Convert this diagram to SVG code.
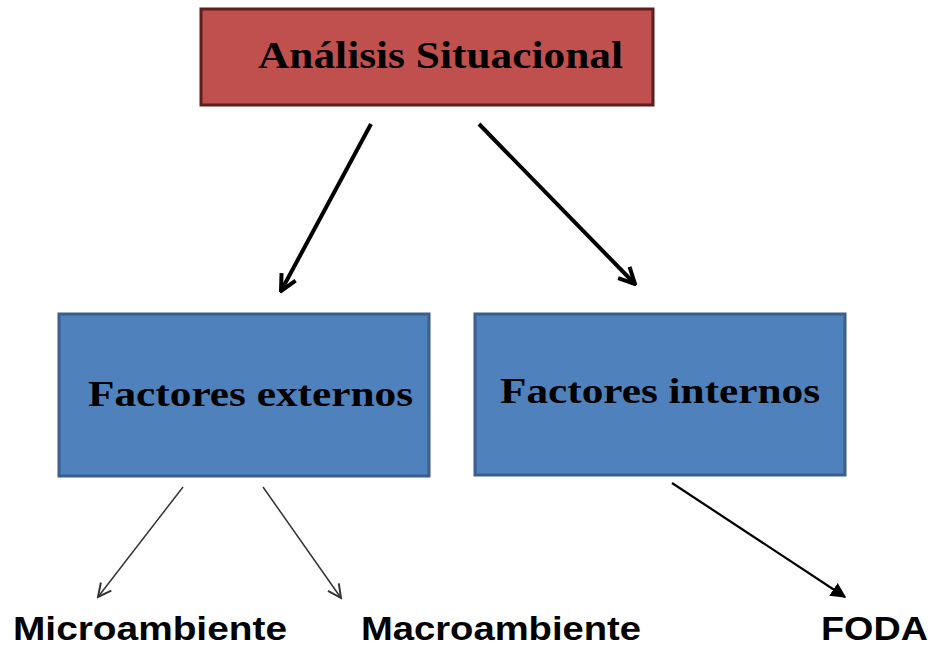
<svg xmlns="http://www.w3.org/2000/svg" width="934" height="646" viewBox="0 0 934 646">
<style>
.serif{font-family:"Liberation Serif","Times New Roman",serif;font-weight:bold;fill:#000}
.sans{font-family:"Liberation Sans",Arial,sans-serif;font-weight:bold;fill:#000}
.blue{fill:#4f81bd;stroke:#3a5f8c;stroke-width:3}
.red{fill:#c0504d;stroke:#5e1e1c;stroke-width:3}
</style>
<defs>
<marker id="openThick" viewBox="0 0 10 10" refX="9" refY="5" markerWidth="5" markerHeight="5" orient="auto" markerUnits="strokeWidth">
<path d="M1,1 L9,5 L1,9" fill="none" stroke="#000" stroke-width="2"/>
</marker>
<marker id="openThin" viewBox="0 0 10 10" refX="9" refY="5" markerWidth="11" markerHeight="11" orient="auto" markerUnits="strokeWidth">
<path d="M1,1 L9,5 L1,9" fill="none" stroke="#333" stroke-width="1.2"/>
</marker>
<marker id="filled" viewBox="0 0 10 10" refX="9" refY="5" markerWidth="7" markerHeight="7" orient="auto" markerUnits="strokeWidth">
<path d="M0,0 L10,5 L0,10 z" fill="#000"/>
</marker>
</defs>
<g id="connectors">
<line x1="371" y1="124" x2="281" y2="291" stroke="#000" stroke-width="4" marker-end="url(#openThick)"/>
<line x1="479" y1="124" x2="635" y2="284" stroke="#000" stroke-width="4" marker-end="url(#openThick)"/>
<line x1="183" y1="487" x2="98" y2="597" stroke="#333" stroke-width="1.5" marker-end="url(#openThin)"/>
<line x1="263" y1="487" x2="341" y2="598" stroke="#333" stroke-width="1.5" marker-end="url(#openThin)"/>
<line x1="672" y1="483" x2="845" y2="597" stroke="#000" stroke-width="2.2" marker-end="url(#filled)"/>
</g>
<g id="analisis">
<rect class="red" x="201" y="9" width="452" height="96"/>
<text class="serif" x="258" y="68" font-size="38" textLength="365" lengthAdjust="spacingAndGlyphs">Análisis Situacional</text>
</g>
<g id="externos">
<rect class="blue" x="59" y="314" width="370" height="162"/>
<text class="serif" x="88" y="406" font-size="36" textLength="325" lengthAdjust="spacingAndGlyphs">Factores externos</text>
</g>
<g id="internos">
<rect class="blue" x="475" y="314" width="370" height="161"/>
<text class="serif" x="500" y="403" font-size="35" textLength="320" lengthAdjust="spacingAndGlyphs">Factores internos</text>
</g>
<g id="microambiente">
<text class="sans" x="13" y="640" font-size="34" textLength="274" lengthAdjust="spacingAndGlyphs">Microambiente</text>
</g>
<g id="macroambiente">
<text class="sans" x="361" y="640" font-size="34" textLength="280" lengthAdjust="spacingAndGlyphs">Macroambiente</text>
</g>
<g id="foda">
<text class="sans" x="821" y="640" font-size="34" textLength="107" lengthAdjust="spacingAndGlyphs">FODA</text>
</g>
</svg>
